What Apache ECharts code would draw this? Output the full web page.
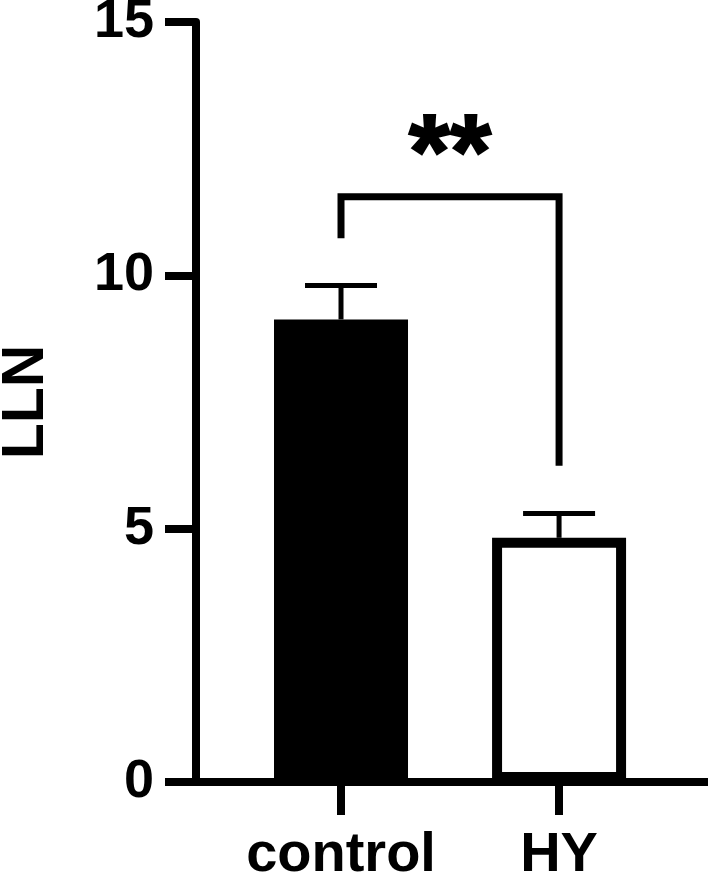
<!DOCTYPE html>
<html>
<head>
<meta charset="utf-8">
<script src="https://cdn.jsdelivr.net/npm/echarts@6/dist/echarts.min.js"></script>
<style>
  html, body { margin: 0; padding: 0; background: #fff; }
  #chart { width: 708px; height: 876px; }
</style>
</head>
<body>
<div id="chart"></div>
<script>
const categories = ['control', 'HY']
const positions = [1, 2]
const means = [9.13, 4.82]
const sems = [0.67, 0.48]
const fills = ['#000', '#fff']
const yTicks = [0, 5, 10, 15]
// significance bracket: [x, y] points
const bracket = [[1, 10.73], [1, 11.55], [2, 11.55], [2, 6.24]]
const starPos = [1.5, 12.3]
const starText = '**'

const font = 'Liberation Sans, Arial, sans-serif'
const chart = echarts.init(document.getElementById('chart'))

const option = {
  animation: false,
  grid: { left: 196, right: 0, top: 22, bottom: 94, outerBoundsMode: 'none' },
  xAxis: {
    type: 'value',
    min: 0.335,
    max: 2.683,
    splitLine: { show: false },
    axisLine: { show: true, lineStyle: { color: '#000', width: 8 } },
    axisTick: { show: true, length: 33, customValues: positions, lineStyle: { color: '#000', width: 8 } },
    axisLabel: {
      customValues: positions,
      margin: 46,
      color: '#000',
      fontFamily: font,
      fontWeight: 'bold',
      fontSize: 56,
      formatter: function (v) { return categories[positions.indexOf(v)] || '' }
    }
  },
  yAxis: {
    type: 'value',
    min: 0,
    max: 15,
    interval: 5,
    name: 'LLN',
    nameLocation: 'middle',
    nameGap: 140,
    nameTextStyle: { color: '#000', fontFamily: font, fontWeight: 'bold', fontSize: 59 },
    splitLine: { show: false },
    axisLine: { show: true, lineStyle: { color: '#000', width: 8 } },
    axisTick: { show: true, length: 31, lineStyle: { color: '#000', width: 8 } },
    axisLabel: {
      margin: 42,
      color: '#000',
      fontFamily: font,
      fontWeight: 'bold',
      fontSize: 54,
      formatter: function (v) { return yTicks.indexOf(v) >= 0 ? String(v) : '' }
    }
  },
  series: [
    {
      type: 'bar',
      barWidth: 134,
      z: 2,
      data: positions.map(function (p, i) {
        return { value: [p, means[i]], itemStyle: { color: fills[i], borderColor: '#000', borderWidth: 10 } }
      })
    },
    {
      type: 'custom',
      z: 1,
      data: positions.map(function (p, i) { return [p, means[i], means[i] + sems[i]] }),
      renderItem: function (params, api) {
        const base = api.coord([api.value(0), api.value(1)])
        const top = api.coord([api.value(0), api.value(2)])
        const half = 36
        return {
          type: 'group',
          children: [
            { type: 'line', shape: { x1: base[0], y1: base[1], x2: top[0], y2: top[1] }, style: { stroke: '#000', lineWidth: 5 } },
            { type: 'line', shape: { x1: top[0] - half, y1: top[1], x2: top[0] + half, y2: top[1] }, style: { stroke: '#000', lineWidth: 5 } }
          ]
        }
      }
    },
    {
      type: 'line',
      data: bracket,
      symbol: 'none',
      lineStyle: { color: '#000', width: 7, cap: 'butt', join: 'miter' }
    },
    {
      type: 'scatter',
      data: [starPos],
      symbolSize: 0,
      itemStyle: { opacity: 1 },
      label: {
        show: true,
        position: 'inside',
        formatter: starText,
        color: '#000',
        fontFamily: font,
        fontWeight: 'bold',
        fontSize: 106,
        textBorderColor: '#000',
        textBorderWidth: 2
      }
    }
  ]
}

chart.setOption(option)
</script>
</body>
</html>
